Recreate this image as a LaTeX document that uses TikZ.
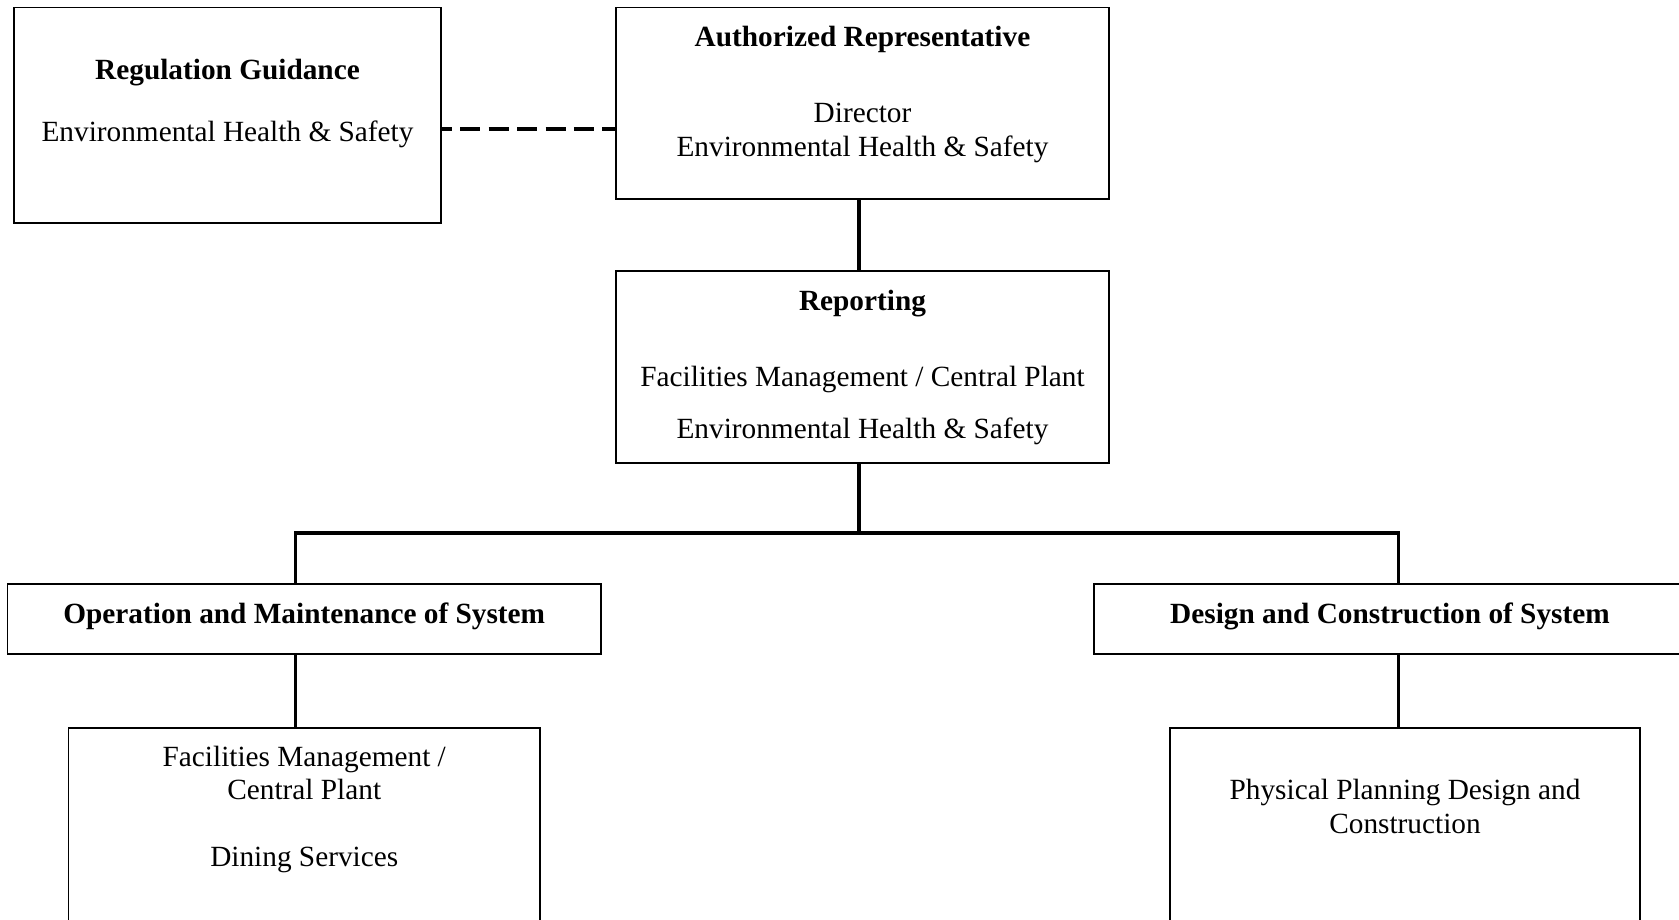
\documentclass[tikz,border=0pt]{standalone}
\usepackage{fontspec}
\setmainfont{Liberation Serif}
\begin{document}
\begin{tikzpicture}[x=1pt,y=-1pt,
  box/.style={draw=black, line width=1.8pt, rectangle, inner sep=0pt, fill=white},
  lbl/.style={inner sep=0pt, anchor=base, font=\fontsize{29.3}{34}\selectfont},
  blbl/.style={lbl, font=\fontsize{29.3}{34}\selectfont\bfseries},
  conn/.style={line width=3.6pt, line join=miter},
  dashline/.style={line width=4pt, dash pattern=on 20pt off 8.4pt, dash phase=10pt}]
\clip (0,0) rectangle (1679,919);
\fill[white] (0,0) rectangle (1679,919);
% boxes
\node[box, minimum width=427pt, minimum height=215.5pt] (reg) at (227.5,115.25) {};
\node[box, minimum width=493pt, minimum height=191.5pt] (auth) at (862.5,103.25) {};
\node[box, minimum width=493pt, minimum height=192pt] (rep) at (862.5,367) {};
\node[box, minimum width=593.5pt, minimum height=70.4pt] (op) at (304.25,618.8) {};
\node[box, minimum width=596pt, minimum height=70.4pt] (des) at (1392,618.8) {};
\node[box, minimum width=471.5pt, minimum height=202pt] (ll) at (304.25,829) {};
\node[box, minimum width=470pt, minimum height=202pt] (lr) at (1405,829) {};
% junction coordinates
\coordinate (jx) at (859,533);
\coordinate (jl) at (295.5,533);
\coordinate (jr) at (1398.5,533);
\coordinate (dy) at (0,128.5);
% connectors
\draw[dashline] (reg.east |- dy) -- (auth.west |- dy);
\draw[conn] (auth.south -| jx) -- (rep.north -| jx);
\draw[conn] (rep.south -| jx) -- (jx);
\draw[conn] (op.north -| jl) -- (jl) -- (jr) -- (des.north -| jr);
\draw[conn] (op.south -| jl) -- (ll.north -| jl);
\draw[conn] (des.south -| jr) -- (lr.north -| jr);
% texts
\node[blbl] (t1) at (227.5,79.6) {Regulation Guidance};
\node[lbl] (t2) at (227.5,141.7) {Environmental Health \& Safety};
\node[blbl] (t3) at (862.5,46.4) {Authorized Representative};
\node[lbl] (t4) at (862.5,122.4) {Director};
\node[lbl] (t5) at (862.5,156.7) {Environmental Health \& Safety};
\node[blbl] (t6) at (862.5,310.9) {Reporting};
\node[lbl] (t7) at (862.5,386.9) {Facilities Management / Central Plant};
\node[lbl] (t8) at (862.5,438.3) {Environmental Health \& Safety};
\node[blbl] (t9) at (304.25,623.6) {Operation and Maintenance of System};
\node[blbl] (t10) at (1390,623.6) {Design and Construction of System};
\node[lbl] (t11) at (304.25,766) {Facilities Management /};
\node[lbl] (t12) at (304.25,799) {Central Plant};
\node[lbl] (t13) at (304.25,866.6) {Dining Services};
\node[lbl] (t14) at (1405,799) {Physical Planning Design and};
\node[lbl] (t15) at (1405,833.5) {Construction};
\end{tikzpicture}
\end{document}
